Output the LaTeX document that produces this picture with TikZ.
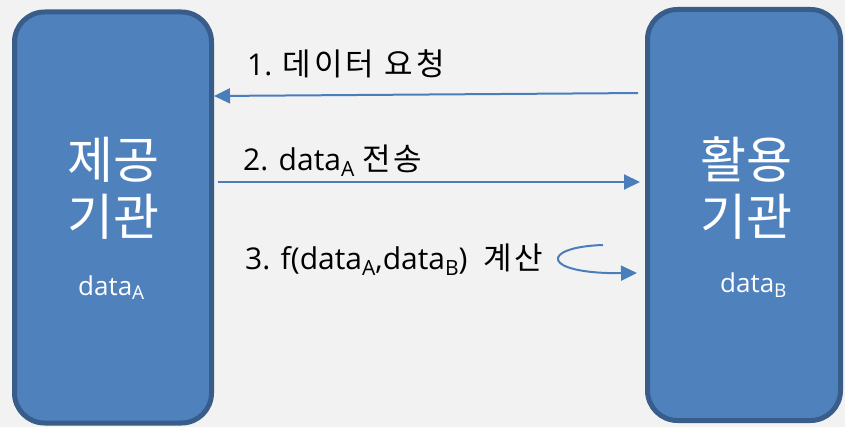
\documentclass[tikz,border=0pt]{standalone}
\usepackage{fontspec}
\setmainfont{Open Sans}
\newfontfamily\kr{Noto Sans CJK KR}
\newfontfamily\krs[LetterSpace=10]{Noto Sans CJK KR}
\usetikzlibrary{arrows.meta}
\definecolor{boxfill}{HTML}{4F81BD}
\definecolor{boxline}{HTML}{385D8A}
\definecolor{bg}{HTML}{F2F2F2}
\definecolor{arrowc}{HTML}{4A7EBB}
\newcommand\dsub[2]{\raisebox{-0.35ex}{\fontsize{#2}{#2}\selectfont #1}}
\newcommand\kw[1]{{\krs\fontsize{31}{34}\selectfont #1}}
\tikzset{
  orgbox/.style={draw=boxline, line width=5pt, fill=boxfill, rounded corners=30pt,
    minimum width=197pt, minimum height=411pt, inner sep=0pt},
  bigtxt/.style={text=white, font=\kr\fontsize{50}{57}\selectfont, align=center, inner sep=0pt},
  datatxt/.style={text=white, font=\fontsize{26}{28}\selectfont, inner sep=0pt, anchor=base west},
  lbl/.style={text=black, font=\fontsize{30}{34}\selectfont, inner sep=0pt, anchor=base west},
  arr/.style={draw=arrowc, line width=2pt, -{Triangle[length=16pt,width=15pt]}}
}
\begin{document}
\begin{tikzpicture}[x=1pt,y=-1pt]
\fill[bg] (0,0) rectangle (845,427);
\useasboundingbox (0,0) rectangle (845,427);
\node[orgbox] (L) at (113,217.5) {};
\node[orgbox, minimum width=193pt] (R) at (744,215) {};
\node[bigtxt] (Lt) at (113,188) {제공\\기관};
\node[bigtxt] (Rt) at (746,188) {활용\\기관};
\node[datatxt] (Ld) at (78,295) {data\dsub{A}{19}};
\node[datatxt] (Rd) at (720,293) {data\dsub{B}{19}};
\node[lbl] (l1) at (247,76) {1. \kw{데이터 요청}};
\node[lbl] (l2) at (243,171) {2. data\dsub{A}{21} \kw{전송}};
\node[lbl] (l3) at (245,270) {3. f(data\dsub{A}{21},data\dsub{B}{21})\ \ \kw{계산}};
\draw[arr, shorten <=7pt] ([yshift=122pt]R.west) -- ([yshift=121.5pt]L.east);
\draw[arr, shorten <=4pt, shorten >=5pt] ([yshift=35.5pt]L.east) -- ([yshift=33pt]R.west);
\coordinate (c0) at (603,245);
\draw[arr] (c0) .. controls (540,247) and (540,274) .. ([yshift=-58pt, xshift=-8pt]R.west);
\end{tikzpicture}
\end{document}
